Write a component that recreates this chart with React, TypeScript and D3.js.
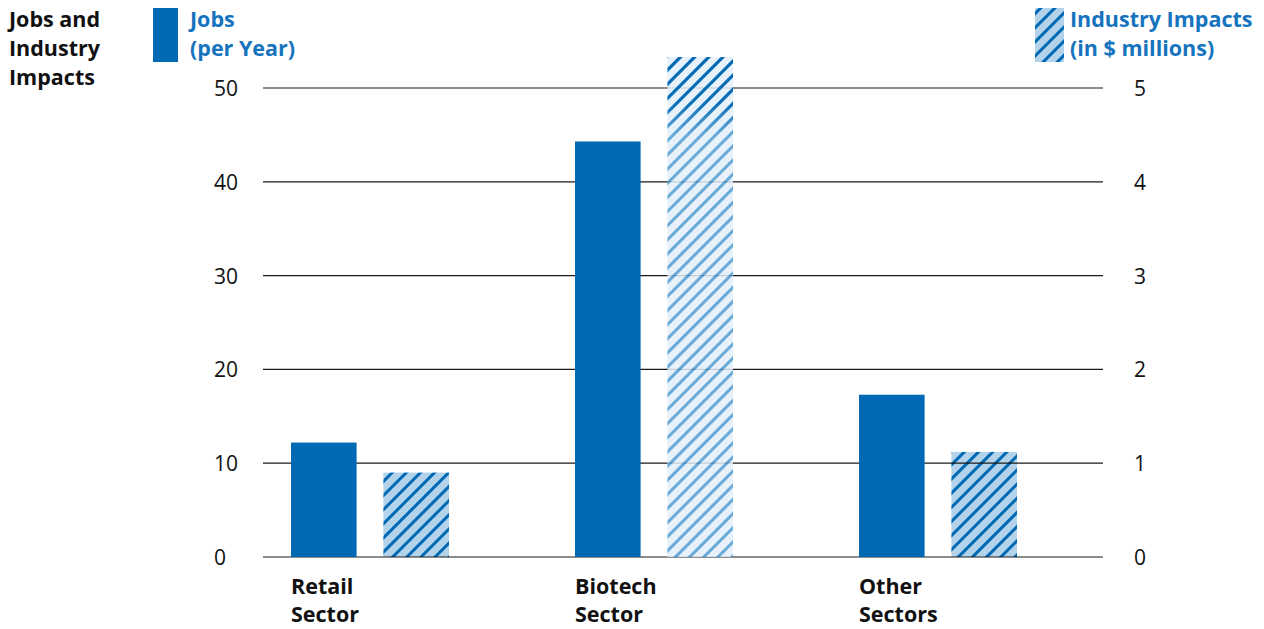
import React from 'react';
import * as d3 from 'd3';

// Chart data
const categories = ['Retail\nSector', 'Biotech\nSector', 'Other\nSectors'];
const jobs = [12.2, 44.3, 17.3];          // jobs per year (left axis)
const impacts = [0.9, 5.33, 1.12];        // $ millions (right axis)
const leftTicks = [0, 10, 20, 30, 40, 50];
const rightTicks = [0, 1, 2, 3, 4, 5];

const W = 1264;
const H = 629;
const BLUE = '#0069b4';
const LIGHT = '#b3d3ea';
const TEXT_BLUE = '#1673bd';
const FONT = '"Open Sans", "Noto Sans", sans-serif';

export default function App() {
  const yJobs = d3.scaleLinear().domain([0, 50]).range([557, 88]);
  const yImp = d3.scaleLinear().domain([0, 5]).range([557, 88]);

  const x0 = d3.scaleBand<string>().domain(categories).range([228, 1080]).padding(0);
  const x1 = d3.scaleBand<string>().domain(['jobs', 'impact']).range([63, 221]).paddingInner(0.29);

  const gridX1 = 263;
  const gridX2 = 1103;

  // bars that overshoot the right axis are drawn faded (as in the source)
  const impactBar = (v: number, i: number) => {
    const cx = x0(categories[i])! + x1('impact')!;
    const y = yImp(v);
    return { x: cx, y, w: x1.bandwidth(), h: yImp(0) - y, over: v > yImp.domain()[1] };
  };

  const renderGrid = () => (
    <g>
      {leftTicks.map(t => (
        <line key={t} x1={gridX1} x2={gridX2} y1={yJobs(t)} y2={yJobs(t)}
          stroke="#1a1a1a" strokeWidth={1.2} />
      ))}
    </g>
  );

  return (
    <svg width={W} height={H} style={{ position: 'absolute', left: 0, top: 0, display: 'block' }}
      fontFamily={FONT}>
      <defs>
        <pattern id="hatch" patternUnits="userSpaceOnUse" width="10" height="10"
          patternTransform="rotate(45)">
          <rect width="10" height="10" fill={LIGHT} />
          <rect x="0" width="3" height="10" fill={BLUE} />
        </pattern>
        <pattern id="hatchFaded" patternUnits="userSpaceOnUse" width="10" height="10"
          patternTransform="rotate(45)">
          <rect width="10" height="10" fill="#e2eef8" />
          <rect x="0" width="3" height="10" fill="#4f9bd2" />
        </pattern>
        <pattern id="hatchDark" patternUnits="userSpaceOnUse" width="10" height="10"
          patternTransform="rotate(45)">
          <rect x="0" width="3" height="10" fill={BLUE} />
        </pattern>
        <linearGradient id="fadeGrad" x1="0" y1="0" x2="0" y2="1">
          <stop offset="0%" stopColor="#fff" stopOpacity={1} />
          <stop offset="60%" stopColor="#fff" stopOpacity={0.9} />
          <stop offset="100%" stopColor="#fff" stopOpacity={0} />
        </linearGradient>
        <mask id="fadeMask" maskContentUnits="objectBoundingBox">
          <rect width="1" height="1" fill="url(#fadeGrad)" />
        </mask>
      </defs>

      {/* title */}
      <text x={9} y={27} fontSize={21.5} fontWeight={700} fill="#111">
        <tspan x={9}>Jobs and</tspan>
        <tspan x={9} dy={29}>Industry</tspan>
        <tspan x={9} dy={29}>Impacts</tspan>
      </text>

      {/* legend */}
      <rect x={153} y={8} width={25} height={54} fill={BLUE} />
      <text x={190} y={27} fontSize={21.5} fontWeight={700} fill={TEXT_BLUE}>
        <tspan x={190}>Jobs</tspan>
        <tspan x={190} dy={29}>(per Year)</tspan>
      </text>
      <rect x={1035} y={8} width={29} height={54} fill="url(#hatch)" />
      <text x={1070} y={27} fontSize={21.5} fontWeight={700} fill={TEXT_BLUE}>
        <tspan x={1070}>Industry Impacts</tspan>
        <tspan x={1070} dy={29}>(in $ millions)</tspan>
      </text>

      {/* impact bars inside the axis range */}
      {impacts.map((v, i) => {
        const b = impactBar(v, i);
        return b.over ? null : (
          <rect key={'imp' + i} x={b.x} y={b.y} width={b.w} height={b.h} fill="url(#hatch)" />
        );
      })}

      {renderGrid()}

      {/* overshooting impact bars, faded so grid shows through */}
      {impacts.map((v, i) => {
        const b = impactBar(v, i);
        if (!b.over) return null;
        return (
          <g key={'impo' + i}>
            <rect x={b.x} y={b.y} width={b.w} height={b.h} fill="url(#hatchFaded)" opacity={0.85} />
            <rect x={b.x} y={b.y} width={b.w} height={yImp(4.5) - b.y}
              fill="url(#hatchDark)" mask="url(#fadeMask)" />
          </g>
        );
      })}

      {/* jobs bars */}
      {jobs.map((v, i) => (
        <rect key={'job' + i} x={x0(categories[i])! + x1('jobs')!} y={yJobs(v)}
          width={x1.bandwidth()} height={yJobs(0) - yJobs(v)} fill={BLUE} />
      ))}

      {/* left axis labels */}
      {leftTicks.map(t => (
        <text key={'l' + t} x={214} y={yJobs(t) + 8} fontSize={21} fill="#111">{t}</text>
      ))}
      {/* right axis labels */}
      {rightTicks.map(t => (
        <text key={'r' + t} x={1134} y={yImp(t) + 8} fontSize={21} fill="#111">{t}</text>
      ))}

      {/* category labels */}
      {categories.map(c => {
        const lines = c.split('\n');
        const lx = x0(c)! + x1('jobs')!;
        return (
          <text key={c} x={lx} y={594} fontSize={21.5} fontWeight={700} fill="#111">
            {lines.map((l, k) => (
              <tspan key={k} x={lx} dy={k === 0 ? 0 : 28}>{l}</tspan>
            ))}
          </text>
        );
      })}
    </svg>
  );
}
